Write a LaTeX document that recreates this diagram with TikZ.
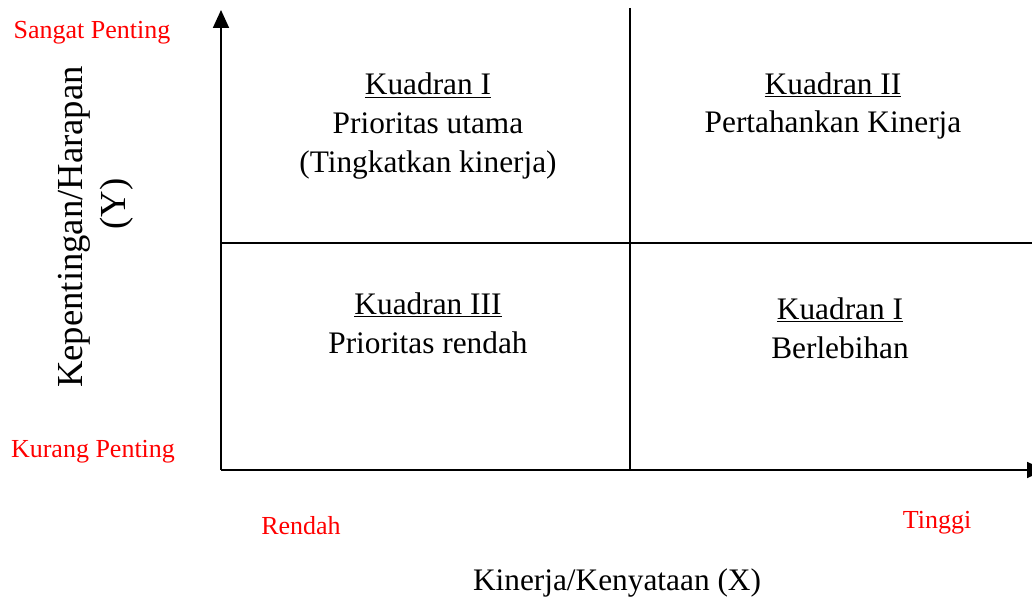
\documentclass[tikz,border=0pt]{standalone}
\usepackage{fontspec}
\setmainfont{Liberation Serif}
\usetikzlibrary{arrows.meta}

\begin{document}
\begin{tikzpicture}[x=0.75pt,y=-0.75pt,
			axis/.style={line width=1.3pt,-{Triangle[length=13.5pt,width=12pt]}},
			divider/.style={line width=1.3pt},
			quad/.style={align=center,font=\fontsize{23.5}{29}\selectfont},
			level/.style={text=red,font=\fontsize{19.5}{23}\selectfont},
			title/.style={font=\fontsize{23.5}{28}\selectfont}]
			\useasboundingbox (0,0) rectangle (1032,598);
			% axes and quadrant borders
			\coordinate (origin) at (221,470);
			\coordinate (ytip) at (221,10);
			\coordinate (xtip) at (1045,470);
			\coordinate (midtop) at (630,8);
			\coordinate (midbot) at (630,470);
			\coordinate (midleft) at (221,243);
			\coordinate (midright) at (1036,243);
			\draw [axis] (origin) -- (ytip);
			\draw [axis] (origin) -- (xtip);
			\draw [divider] (midtop) -- (midbot);
			\draw [divider] (midleft) -- (midright);
			% quadrants
			\node (quadA) [quad] at (428,126) {\underline{Kuadran I}\\Prioritas utama\\(Tingkatkan kinerja)};
			\node (quadB) [quad] at (833,106) {\underline{Kuadran II}\\Pertahankan Kinerja};
			\node (quadC) [quad] at (428,323) {\underline{Kuadran III}\\Prioritas rendah};
			\node (quadD) [quad] at (840,328) {\underline{Kuadran I}\\Berlebihan};
			% levels
			\node (high) [level] at (92,33) {Sangat Penting};
			\node (low) [level] at (93,452) {Kurang Penting};
			\node (rendah) [level] at (301,526) {Rendah};
			\node (tinggi) [level] at (937,523) {Tinggi};
			% axis titles
			\node (xtitle) [title] at (617,583) {Kinerja/Kenyataan (X)};
			\node (ytitle) [rotate=90,font=\fontsize{27.5}{32}\selectfont] at (74,227) {Kepentingan/Harapan};
			\node (ytitleb) [rotate=90,font=\fontsize{27.5}{32}\selectfont] at (117,204) {(Y)};
		\end{tikzpicture}
\end{document}
